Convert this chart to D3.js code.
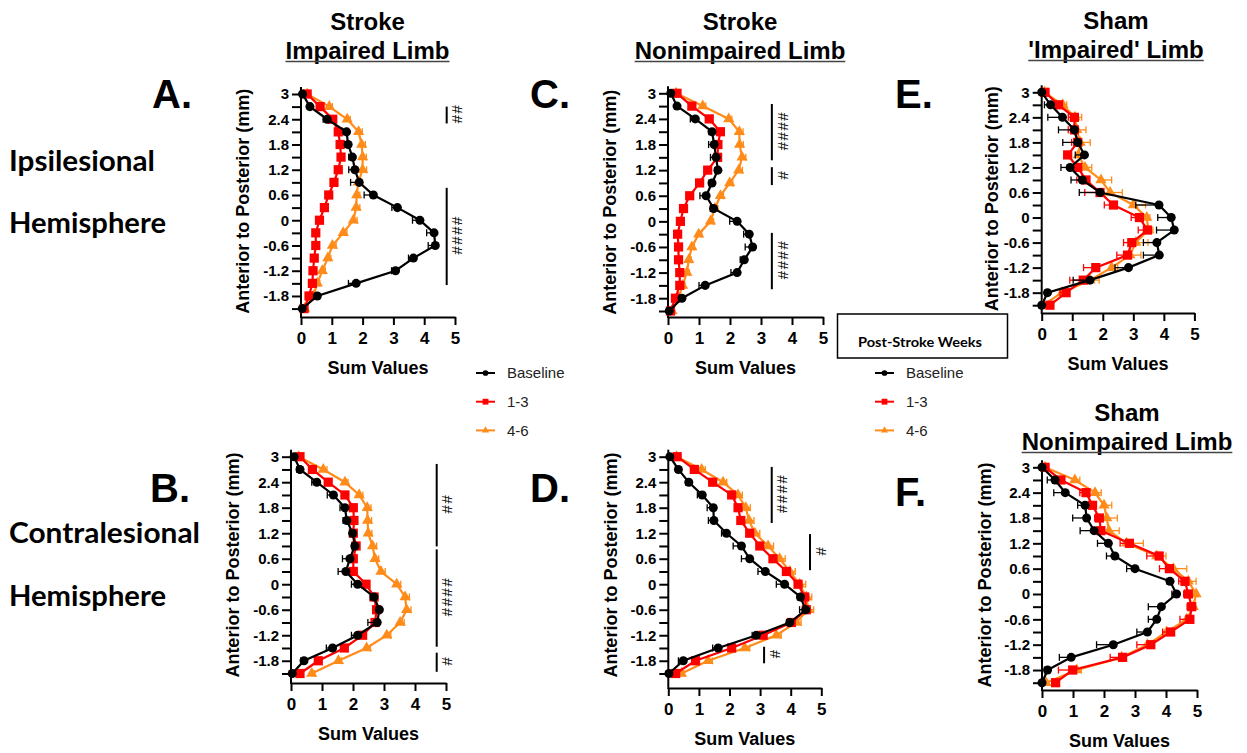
<!DOCTYPE html>
<html>
<head>
<meta charset="utf-8">
<script src="https://cdn.jsdelivr.net/npm/d3@7"></script>
<style>
  body { margin: 0; background: #fff; }
  svg { display: block; }
  .axis path, .axis line { stroke: #000; stroke-width: 2; }
  .ytick text { font: bold 15px "Liberation Sans", Arial, sans-serif; }
  .xtick text { font: bold 17px "Liberation Sans", Arial, sans-serif; }
</style>
</head>
<body>
<div id="chart"></div>
<script>
// depth levels (mm, anterior -> posterior), same for every panel
var depths = [3, 2.7, 2.4, 2.1, 1.8, 1.5, 1.2, 0.9, 0.6, 0.3, 0, -0.3, -0.6, -0.9, -1.2, -1.5, -1.8, -2.1];
var xTicks = [0, 1, 2, 3, 4, 5];
var seriesNames = ['Baseline', '1-3', '4-6'];

// A. stroke, impaired limb, ipsilesional
var baseA = [0.05, 0.29, 0.85, 1.48, 1.53, 1.67, 1.75, 1.89, 2.35, 3.13, 3.86, 4.32, 4.36, 3.65, 3.07, 1.79, 0.53, 0.04];
var wk13A = [0.2, 0.62, 1.03, 1.21, 1.27, 1.3, 1.21, 1.07, 0.9, 0.76, 0.6, 0.48, 0.48, 0.43, 0.39, 0.37, 0.26, 0.1];
var wk46A = [0.2, 0.92, 1.5, 1.87, 1.97, 2.0, 2.0, 1.86, 1.81, 1.79, 1.7, 1.37, 1.02, 0.87, 0.69, 0.53, 0.4, 0.12];
var errBaseA = [0.02, 0.08, 0.13, 0.1, 0.1, 0.12, 0.2, 0.28, 0.3, 0.18, 0.24, 0.24, 0.23, 0.16, 0.13, 0.25, 0.08, 0.02];
var errWk13A = [0.03, 0.05, 0.06, 0.06, 0.07, 0.07, 0.07, 0.06, 0.06, 0.06, 0.05, 0.05, 0.05, 0.05, 0.05, 0.05, 0.04, 0.02];
var errWk46A = [0.03, 0.1, 0.1, 0.12, 0.12, 0.12, 0.13, 0.12, 0.1, 0.12, 0.12, 0.12, 0.12, 0.1, 0.1, 0.08, 0.07, 0.03];

// B. stroke, impaired limb, contralesional
var baseB = [0.1, 0.29, 0.83, 1.37, 1.74, 1.8, 1.99, 2.06, 1.9, 1.77, 2.15, 2.68, 2.85, 2.78, 2.15, 1.34, 0.42, 0.04];
var wk13B = [0.29, 0.69, 1.2, 1.74, 2.01, 2.03, 2.01, 2.1, 2.01, 2.01, 2.42, 2.68, 2.76, 2.71, 2.31, 1.72, 0.88, 0.29];
var wk46B = [0.25, 1.04, 1.74, 2.2, 2.46, 2.47, 2.49, 2.63, 2.71, 2.9, 3.41, 3.68, 3.73, 3.52, 3.09, 2.44, 1.53, 0.67];
var errBaseB = [0.03, 0.1, 0.16, 0.2, 0.16, 0.12, 0.1, 0.1, 0.24, 0.25, 0.2, 0.12, 0.1, 0.3, 0.2, 0.2, 0.1, 0.02];
var errWk13B = [0.04, 0.06, 0.07, 0.08, 0.08, 0.08, 0.08, 0.08, 0.08, 0.08, 0.08, 0.08, 0.08, 0.1, 0.08, 0.08, 0.06, 0.04];
var errWk46B = [0.04, 0.12, 0.1, 0.12, 0.12, 0.13, 0.12, 0.13, 0.12, 0.14, 0.13, 0.14, 0.14, 0.13, 0.13, 0.12, 0.1, 0.08];

// C. stroke, nonimpaired limb, ipsilesional
var baseC = [0.09, 0.29, 0.88, 1.42, 1.49, 1.55, 1.61, 1.42, 1.23, 1.47, 2.23, 2.62, 2.73, 2.46, 2.23, 1.2, 0.45, 0.04];
var wk13C = [0.29, 0.77, 1.33, 1.69, 1.61, 1.6, 1.28, 1.02, 0.7, 0.5, 0.4, 0.31, 0.34, 0.34, 0.38, 0.38, 0.24, 0.08];
var wk46C = [0.26, 1.12, 1.96, 2.3, 2.31, 2.39, 2.28, 1.99, 1.69, 1.51, 1.37, 0.99, 0.77, 0.67, 0.61, 0.47, 0.34, 0.13];
var errBaseC = [0.02, 0.06, 0.16, 0.1, 0.18, 0.18, 0.1, 0.1, 0.2, 0.1, 0.24, 0.18, 0.24, 0.13, 0.2, 0.2, 0.08, 0.02];
var errWk13C = [0.04, 0.06, 0.07, 0.07, 0.07, 0.07, 0.1, 0.08, 0.07, 0.06, 0.05, 0.05, 0.05, 0.05, 0.05, 0.05, 0.04, 0.02];
var errWk46C = [0.04, 0.1, 0.1, 0.12, 0.12, 0.12, 0.12, 0.1, 0.1, 0.1, 0.1, 0.1, 0.08, 0.08, 0.08, 0.08, 0.06, 0.03];

// D. stroke, nonimpaired limb, contralesional
var baseD = [0.05, 0.33, 0.67, 1.11, 1.47, 1.49, 1.9, 2.39, 2.66, 3.17, 3.8, 4.32, 4.49, 3.97, 2.88, 1.63, 0.49, 0.02];
var wk13D = [0.29, 0.85, 1.45, 2.07, 2.28, 2.37, 2.66, 2.99, 3.42, 3.86, 4.24, 4.46, 4.51, 4.02, 3.1, 2.07, 0.89, 0.24];
var wk46D = [0.27, 1.09, 1.79, 2.28, 2.53, 2.64, 2.83, 3.26, 3.64, 3.97, 4.29, 4.51, 4.57, 4.18, 3.53, 2.5, 1.3, 0.43];
var errBaseD = [0.02, 0.08, 0.1, 0.16, 0.2, 0.18, 0.16, 0.27, 0.27, 0.24, 0.27, 0.1, 0.2, 0.1, 0.14, 0.18, 0.16, 0.02];
var errWk13D = [0.04, 0.08, 0.08, 0.1, 0.1, 0.1, 0.1, 0.1, 0.1, 0.1, 0.1, 0.1, 0.12, 0.12, 0.12, 0.1, 0.08, 0.04];
var errWk46D = [0.05, 0.12, 0.12, 0.14, 0.15, 0.16, 0.16, 0.18, 0.18, 0.18, 0.2, 0.18, 0.18, 0.16, 0.16, 0.16, 0.14, 0.08];

// E. sham 'impaired' limb
var baseE = [0, 0.29, 0.68, 1.07, 1.18, 1.4, 0.93, 1.33, 1.91, 3.84, 4.24, 4.34, 3.77, 3.85, 2.84, 1.58, 0.19, 0];
var wk13E = [0.11, 0.55, 1.07, 1.07, 1.18, 0.85, 1.18, 1.45, 1.91, 2.35, 3.2, 3.46, 2.95, 2.81, 1.77, 1.36, 0.8, 0.27];
var wk46E = [0.09, 0.69, 1.09, 1.15, 1.26, 1.2, 1.42, 1.94, 2.24, 3.0, 3.44, 3.49, 3.08, 2.89, 2.29, 1.58, 0.66, 0.05];
var errBaseE = [0, 0.2, 0.48, 0.52, 0.49, 0.3, 0.3, 0.37, 0.68, 0.76, 0.44, 0.58, 0.44, 0.52, 0.44, 0.55, 0.08, 0];
var errWk13E = [0.05, 0.15, 0.2, 0.2, 0.2, 0.1, 0.15, 0.3, 0.5, 0.3, 0.27, 0.3, 0.27, 0.35, 0.4, 0.44, 0.2, 0.1];
var errWk46E = [0.05, 0.13, 0.22, 0.3, 0.33, 0.15, 0.22, 0.35, 0.4, 0.4, 0.1, 0.15, 0.4, 0.36, 0.2, 0.3, 0.15, 0.05];

// F. sham nonimpaired limb
var baseF = [0, 0.42, 0.75, 1.39, 1.44, 1.68, 2.14, 2.35, 3.0, 4.13, 4.34, 3.85, 3.7, 3.4, 2.3, 0.94, 0.18, 0];
var wk13F = [0.1, 0.61, 1.42, 1.63, 1.85, 1.9, 2.82, 3.78, 4.11, 4.61, 4.72, 4.83, 4.77, 4.15, 3.51, 2.6, 0.99, 0.44];
var wk46F = [0.1, 1.06, 1.71, 2.0, 2.09, 2.16, 2.73, 3.7, 4.24, 4.72, 4.97, 4.88, 4.67, 4.02, 3.4, 2.57, 1.12, 0.13];
var errBaseF = [0, 0.25, 0.37, 0.24, 0.45, 0.45, 0.35, 0.27, 0.27, 0.1, 0.15, 0.42, 0.27, 0.34, 0.54, 0.38, 0.1, 0];
var errWk13F = [0.05, 0.1, 0.2, 0.15, 0.15, 0.15, 0.3, 0.4, 0.32, 0.2, 0.15, 0.15, 0.32, 0.26, 0.45, 0.4, 0.46, 0.1];
var errWk46F = [0.05, 0.16, 0.2, 0.25, 0.34, 0.33, 0.54, 0.3, 0.43, 0.25, 0.05, 0.05, 0.1, 0.1, 0.15, 0.15, 0.15, 0.05];

// significance bars: [x value, top depth, bottom depth, label]
var sigA = [[4.73, 2.7, 2.3, '##'], [4.73, 0.77, -1.54, '####']];
var sigB = [[4.7, 2.83, 0.89, '##'], [4.7, 0.82, -1.47, '####'], [4.7, -1.61, -2.06, '#']];
var sigC = [[3.35, 2.75, 1.43, '####'], [3.35, 1.27, 0.85, '#'], [3.35, -0.27, -1.59, '####']];
var sigD = [[3.38, 2.76, 1.44, '####'], [4.63, 1.18, 0.33, '#'], [3.13, -1.47, -1.86, '#']];

var W = 1247, H = 753;
var FONT = '"Liberation Sans", Arial, sans-serif';
var colors = ['#000000', '#ff0000', '#ff8c1a'];
var shapes = [d3.symbolCircle, d3.symbolSquare, d3.symbolTriangle];
var shapeSize = [64, 85, 55];
var errDir = [-1, -1, 1];

var panels = [
  {series: [baseA, wk13A, wk46A], errs: [errBaseA, errWk13A, errWk46A], sig: sigA, x0: 301, x5: 455, y3: 94, yEnd: 308.6, axisY: 317, labOff: 58},
  {series: [baseB, wk13B, wk46B], errs: [errBaseB, errWk13B, errWk46B], sig: sigB, x0: 291, x5: 446, y3: 456.7, yEnd: 673.5, axisY: 683, labOff: 58},
  {series: [baseC, wk13C, wk46C], errs: [errBaseC, errWk13C, errWk46C], sig: sigC, x0: 668, x5: 823, y3: 93.3, yEnd: 311, axisY: 317, labOff: 58},
  {series: [baseD, wk13D, wk46D], errs: [errBaseD, errWk13D, errWk46D], sig: sigD, x0: 668.3, x5: 821.3, y3: 456.7, yEnd: 673.5, axisY: 688, labOff: 58},
  {series: [baseE, wk13E, wk46E], errs: [errBaseE, errWk13E, errWk46E], sig: [], x0: 1041.7, x5: 1194.4, y3: 92.3, yEnd: 305.2, axisY: 313, labOff: 50},
  {series: [baseF, wk13F, wk46F], errs: [errBaseF, errWk13F, errWk46F], sig: [], x0: 1042, x5: 1197, y3: 467.3, yEnd: 682.7, axisY: 690, labOff: 57}
];

var svg = d3.select('#chart').append('svg')
  .attr('width', W)
  .attr('height', H);

panels.forEach(function(p) {
  var x = d3.scaleLinear().domain([0, 5]).range([p.x0, p.x5]);
  var y = d3.scaleLinear().domain([3, -2.1]).range([p.y3, p.yEnd]);
  var g = svg.append('g');

  // y axis
  var ya = g.append('g').attr('class', 'axis ytick')
    .attr('transform', 'translate(' + p.x0 + ',0)')
    .call(d3.axisLeft(y).tickValues(depths).tickSize(9).tickSizeOuter(0).tickPadding(3)
      .tickFormat(function(d, i) { return i % 2 === 0 ? String(d) : ''; }));
  ya.select('.domain').remove();
  ya.selectAll('text').attr('fill', '#000');
  g.append('line')
    .attr('x1', p.x0).attr('x2', p.x0)
    .attr('y1', p.y3 - 7).attr('y2', p.axisY + 1)
    .attr('stroke', '#000').attr('stroke-width', 2);

  // x axis
  var xa = g.append('g').attr('class', 'axis xtick')
    .attr('transform', 'translate(0,' + p.axisY + ')')
    .call(d3.axisBottom(x).tickValues(xTicks).tickSize(8).tickSizeOuter(0).tickPadding(7).tickFormat(d3.format('d')));
  xa.selectAll('text').attr('fill', '#000');

  // axis titles
  g.append('text')
    .attr('transform', 'translate(' + (p.x0 - p.labOff) + ',' + ((p.y3 + p.yEnd) / 2) + ') rotate(-90)')
    .attr('text-anchor', 'middle').attr('dy', '0.36em')
    .style('font', 'bold 18px ' + FONT)
    .text('Anterior to Posterior (mm)');
  g.append('text')
    .attr('x', (p.x0 + p.x5) / 2).attr('y', p.axisY + 57)
    .attr('text-anchor', 'middle')
    .style('font', 'bold 18px ' + FONT)
    .text('Sum Values');

  // series, orange first so black sits on top
  [2, 1, 0].forEach(function(s) {
    var vals = p.series[s];
    var errs = p.errs[s];
    var pts = depths.map(function(d, i) { return {d: d, v: vals[i], e: errs[i]}; });
    var sg = g.append('g');

    // error bars
    var eb = sg.selectAll('g.err').data(pts.filter(function(q) { return q.e > 0; })).enter().append('g')
      .attr('stroke', colors[s]).attr('stroke-width', 1.3);
    eb.append('line')
      .attr('x1', function(q) { return x(q.v); })
      .attr('x2', function(q) { return x(q.v + errDir[s] * q.e); })
      .attr('y1', function(q) { return y(q.d); })
      .attr('y2', function(q) { return y(q.d); });
    eb.append('line')
      .attr('x1', function(q) { return x(q.v + errDir[s] * q.e); })
      .attr('x2', function(q) { return x(q.v + errDir[s] * q.e); })
      .attr('y1', function(q) { return y(q.d) - 3.5; })
      .attr('y2', function(q) { return y(q.d) + 3.5; });

    sg.append('path')
      .datum(pts)
      .attr('fill', 'none')
      .attr('stroke', colors[s])
      .attr('stroke-width', 2.2)
      .attr('d', d3.line().x(function(q) { return x(q.v); }).y(function(q) { return y(q.d); }));

    sg.selectAll('path.mk').data(pts).enter().append('path')
      .attr('class', 'mk')
      .attr('transform', function(q) { return 'translate(' + x(q.v) + ',' + y(q.d) + ')'; })
      .attr('d', d3.symbol().type(shapes[s]).size(shapeSize[s]))
      .attr('fill', colors[s]);
  });

  // significance markers
  p.sig.forEach(function(b) {
    g.append('line')
      .attr('x1', x(b[0])).attr('x2', x(b[0]))
      .attr('y1', y(b[1])).attr('y2', y(b[2]))
      .attr('stroke', '#000').attr('stroke-width', 2);
    g.append('text')
      .attr('transform', 'translate(' + (x(b[0]) + 11) + ',' + ((y(b[1]) + y(b[2])) / 2) + ') rotate(90)')
      .attr('text-anchor', 'middle').attr('dy', '0.35em')
      .style('font', '15px ' + FONT)
      .style('letter-spacing', '1.5px')
      .text(b[3]);
  });
});

// column titles
var titles = [
  {x: 367.5, y: 30, l1: 'Stroke', l2: 'Impaired Limb'},
  {x: 740, y: 30, l1: 'Stroke', l2: 'Nonimpaired Limb'},
  {x: 1116, y: 29, l1: 'Sham', l2: "'Impaired' Limb"},
  {x: 1127, y: 421, l1: 'Sham', l2: 'Nonimpaired Limb'}
];
titles.forEach(function(t) {
  svg.append('text').attr('x', t.x).attr('y', t.y).attr('text-anchor', 'middle')
    .style('font', 'bold 24px ' + FONT).text(t.l1);
  var t2 = svg.append('text').attr('x', t.x).attr('y', t.y + 29).attr('text-anchor', 'middle')
    .style('font', 'bold 24px ' + FONT).text(t.l2);
  var w = t2.node().getComputedTextLength();
  svg.append('line')
    .attr('x1', t.x - w / 2).attr('x2', t.x + w / 2)
    .attr('y1', t.y + 31.5).attr('y2', t.y + 31.5)
    .attr('stroke', '#444').attr('stroke-width', 1.5);
});

// panel letters
var letters = [['A.', 152, 108], ['B.', 150, 502], ['C.', 530, 108], ['D.', 530, 502], ['E.', 895, 108], ['F.', 895, 506]];
letters.forEach(function(l) {
  svg.append('text').attr('x', l[1]).attr('y', l[2])
    .style('font', 'bold 40px ' + FONT).text(l[0]);
});

// hemisphere labels
var sideLabels = [['Ipsilesional', 171, 146], ['Hemisphere', 233, 157], ['Contralesional', 543, 191], ['Hemisphere', 606, 157]];
sideLabels.forEach(function(s) {
  svg.append('text').attr('x', 9).attr('y', s[1])
    .attr('textLength', s[2]).attr('lengthAdjust', 'spacingAndGlyphs')
    .style('font', 'bold 28px Lato, "Open Sans", sans-serif').text(s[0]);
});

// legends
function legend(lx, ly) {
  seriesNames.forEach(function(n, i) {
    var cy = ly + i * 28.7;
    svg.append('line').attr('x1', lx).attr('x2', lx + 19).attr('y1', cy).attr('y2', cy)
      .attr('stroke', colors[i]).attr('stroke-width', 2);
    svg.append('path')
      .attr('transform', 'translate(' + (lx + 9.5) + ',' + cy + ')')
      .attr('d', d3.symbol().type(shapes[i]).size(shapeSize[i] * 0.4))
      .attr('fill', colors[i]);
    svg.append('text').attr('x', lx + 31).attr('y', cy).attr('dy', '0.35em')
      .style('font', '15px ' + FONT).attr('fill', '#222').text(n);
  });
}
legend(476, 373);

// box over the sham panel's axis title
svg.append('rect')
  .attr('x', 837.5).attr('y', 314).attr('width', 170).attr('height', 44)
  .attr('fill', '#fff').attr('stroke', '#000').attr('stroke-width', 1.5);
svg.append('text').attr('x', 920).attr('y', 347).attr('text-anchor', 'middle')
  .attr('textLength', 124).attr('lengthAdjust', 'spacingAndGlyphs')
  .style('font', 'bold 14px Lato, "Open Sans", sans-serif').text('Post-Stroke Weeks');
legend(875, 373);
</script>
</body>
</html>
